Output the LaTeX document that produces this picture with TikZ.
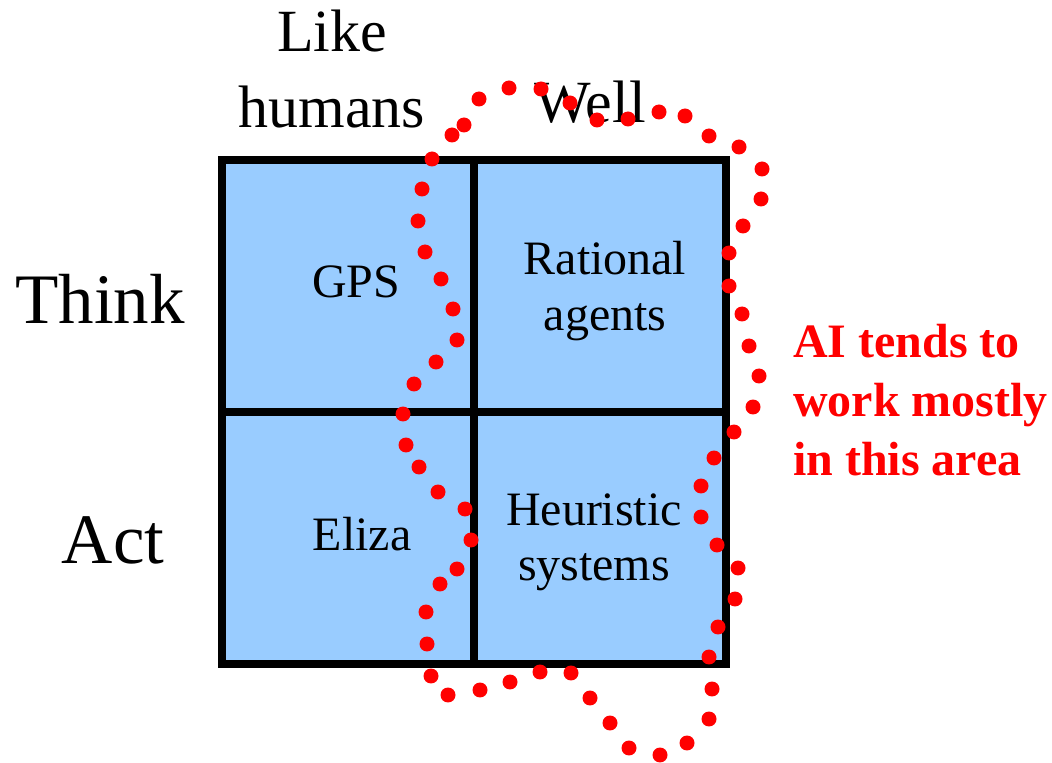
\documentclass[tikz,border=0pt]{standalone}
\usepackage{fontspec}
\setmainfont{Liberation Serif}
\usetikzlibrary{arrows.meta}
\tikzset{>=Latex}
\definecolor{cellblue}{HTML}{99CCFF}
\tikzset{
  head/.style={inner sep=0pt,align=center,font=\fontsize{34.1}{43.8}\selectfont},
  side/.style={inner sep=0pt,font=\fontsize{40.4}{46}\selectfont},
  cell/.style={inner sep=0pt,align=center,font=\fontsize{27.3}{31.5}\selectfont},
  note/.style={inner sep=0pt,align=left,text=red,font=\bfseries\fontsize{27.3}{33.5}\selectfont},
  aidot/.style={fill=red}
}

\begin{document}
\begin{tikzpicture}[x=0.02cm,y=-0.02cm]
\useasboundingbox (0,0) rectangle (1052,763);
\fill[cellblue] (222,160) rectangle (726,664);
\draw[line width=0.16cm] (222,160) rectangle (726,664)
  (474,160) -- (474,664) (222,412) -- (726,412);
\node[head] (like) at (332,69) {Like\\humans};
\node[head,anchor=base] (well) at (590,123) {Well};
\node[side,anchor=base] (think) at (100,324) {Think};
\node[side,anchor=base] (act) at (113,563) {Act};
\node[cell,anchor=base] (gps) at (356,298) {GPS};
\node[cell] (ratl) at (605,291) {Rational\\agents};
\node[cell,anchor=base] (eliza) at (362,551) {Eliza};
\node[cell] (heur) at (594,542) {Heuristic\\systems};
\node[note,anchor=west] (area) at (793,400) {AI tends to\\work mostly\\in this area};
% dotted boundary round the area
\foreach \x/\y in {509/88,541/89,570/103,597/120,628/119,659/112,685/116,709/136,
  739/147,762/169,761/199,743/226,729/253,729/286,742/314,749/346,759/376,753/407,
  734/432,714/458,701/486,701/517,717/545,738/568,735/599,718/627,709/657,712/689,
  709/719,687/743,660/755,629/748,610/723,590/698,571/673,540/672,510/682,480/690,
  448/695,431/676,427/644,426/612,440/584,457/569,471/540,465/509,438/492,419/467,
  406/445,403/414,414/384,436/362,457/340,453/309,441/279,425/252,418/221,422/189,
  432/159,452/135,464/125,479/99}
  \fill[aidot] (\x,\y) circle[radius=0.15cm];
\end{tikzpicture}
\end{document}
